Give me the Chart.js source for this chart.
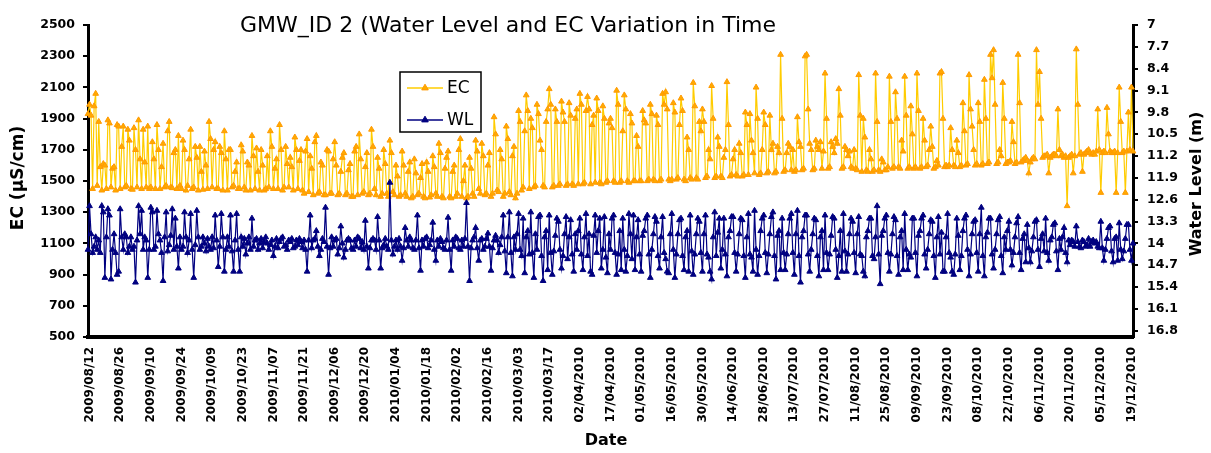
<!DOCTYPE html>
<html>
<head>
<meta charset="utf-8">
<script src="https://cdn.jsdelivr.net/npm/chart.js@4.4.3/dist/chart.umd.min.js"></script>
<style>
  html, body { margin: 0; padding: 0; background: #fff; }
  #wrap { width: 1211px; height: 453px; }
</style>
</head>
<body>
<div id="wrap"><canvas id="chart" width="1211" height="453"></canvas></div>
<script>
// date labels shown every 20th reading
const tickLabels = [
  '2009/08/12', '2009/08/26', '2009/09/10', '2009/09/24', '2009/10/09', '2009/10/23',
  '2009/11/07', '2009/11/21', '2009/12/06', '2009/12/20', '2010/01/04', '2010/01/18',
  '2010/02/02', '2010/02/16', '2010/03/03', '2010/03/17', '02/04/2010', '17/04/2010',
  '01/05/2010', '16/05/2010', '30/05/2010', '14/06/2010', '28/06/2010', '13/07/2010',
  '27/07/2010', '11/08/2010', '25/08/2010', '09/09/2010', '23/09/2010', '08/10/2010',
  '22/10/2010', '06/11/2010', '20/11/2010', '05/12/2010', '19/12/2010'
];
const labelEvery = 20;

// EC in uS/cm
const ecValues = [
  1930,
  1990, 1920, 1450, 1980, 2060, 1470, 1880, 1590, 1440, 1610, 1600, 1450, 1890, 1870, 1460, 1580, 1590, 1440, 1860, 1850,
  1450, 1720, 1850, 1460, 1470, 1830, 1760, 1450, 1445, 1840, 1700, 1460, 1890, 1640, 1450, 1830, 1620, 1460, 1850, 1450,
  1460, 1750, 1640, 1450, 1860, 1700, 1450, 1590, 1740, 1460, 1470, 1820, 1880, 1460, 1455, 1680, 1700, 1450, 1790, 1470,
  1450, 1760, 1700, 1440, 1470, 1640, 1830, 1450, 1460, 1720, 1650, 1440, 1720, 1560, 1445, 1690, 1600, 1450, 1880, 1770,
  1460, 1700, 1750, 1450, 1450, 1720, 1680, 1440, 1820, 1640, 1440, 1700, 1700, 1460, 1470, 1560, 1620, 1450, 1450, 1730,
  1690, 1460, 1440, 1620, 1600, 1440, 1790, 1660, 1450, 1710, 1560, 1440, 1700, 1600, 1440, 1450, 1660, 1460, 1820, 1720,
  1450, 1580, 1640, 1450, 1860, 1700, 1440, 1460, 1720, 1610, 1460, 1650, 1590, 1440, 1780, 1700, 1450, 1630, 1700, 1440,
  1420, 1690, 1770, 1430, 1660, 1580, 1410, 1750, 1790, 1420, 1430, 1620, 1600, 1410, 1410, 1700, 1690, 1420, 1420, 1640,
  1750, 1600, 1410, 1420, 1560, 1650, 1680, 1410, 1420, 1570, 1610, 1400, 1400, 1690, 1720, 1410, 1800, 1640, 1420, 1430,
  1590, 1680, 1410, 1420, 1830, 1720, 1450, 1410, 1650, 1580, 1400, 1420, 1700, 1610, 1420, 1400, 1760, 1680, 1430, 1410,
  1600, 1530, 1400, 1410, 1690, 1600, 1420, 1400, 1560, 1620, 1390, 1400, 1640, 1550, 1410, 1420, 1520, 1610, 1400, 1390,
  1620, 1560, 1395, 1410, 1660, 1590, 1420, 1400, 1740, 1680, 1400, 1390, 1580, 1650, 1690, 1400, 1390, 1560, 1600, 1400,
  1420, 1700, 1770, 1400, 1500, 1600, 1390, 1400, 1650, 1580, 1420, 1400, 1760, 1690, 1450, 1420, 1740, 1660, 1410, 1420,
  1600, 1680, 1400, 1420, 1910, 1800, 1440, 1430, 1700, 1640, 1400, 1420, 1850, 1770, 1430, 1410, 1660, 1720, 1390, 1420,
  1950, 1880, 1440, 1460, 1820, 2050, 1950, 1450, 1900, 1840, 1460, 1470, 1990, 1930, 1760, 1700, 1470, 1460, 1880, 1960,
  2090, 1990, 1460, 1470, 1960, 1880, 1470, 1480, 2010, 1940, 1880, 1470, 1480, 2000, 1920, 1480, 1470, 1900, 1960, 1480,
  2060, 1990, 1480, 1490, 1950, 2040, 1960, 1480, 1860, 1920, 1490, 2030, 1950, 1490, 1480, 1980, 1900, 1490, 1500, 1870,
  1900, 1840, 1500, 1490, 2080, 1990, 1490, 1500, 1820, 2050, 1960, 1500, 1490, 1930, 1870, 1500, 1500, 1790, 1720, 1500,
  1500, 1950, 1890, 1870, 1500, 1510, 1990, 1930, 1510, 1500, 1920, 1860, 1500, 1510, 2060, 1990, 2070, 1960, 1510, 1500,
  1510, 2000, 1940, 1510, 1520, 1860, 2030, 1950, 1510, 1500, 1780, 1700, 1520, 1510, 2130, 1980, 1520, 1510, 1880, 1820,
  1960, 1880, 1520, 1530, 1700, 1640, 2110, 1900, 1520, 1530, 1780, 1720, 1530, 1520, 1650, 1700, 2135, 1860, 1530, 1540,
  1640, 1700, 1540, 1530, 1740, 1680, 1530, 1540, 1940, 1860, 1540, 1930, 1760, 1680, 1550, 2100, 1900, 1540, 1550, 1700,
  1940, 1860, 1550, 1560, 1920, 1700, 1740, 1550, 1560, 1720, 1680, 2310, 1900, 1560, 1570, 1680, 1740, 1720, 1570, 1700,
  1560, 1570, 1910, 1750, 1720, 1570, 1580, 2300, 2310, 1960, 1740, 1700, 1570, 1580, 1760, 1720, 1700, 1750, 1580, 1690,
  2190, 1900, 1580, 1590, 1750, 1720, 1680, 1770, 1740, 2090, 1920, 1580, 1590, 1720, 1700, 1660, 1690, 1590, 1580, 1700,
  1580, 1570, 2180, 1920, 1560, 1900, 1780, 1570, 1560, 1700, 1640, 1560, 1570, 2190, 1880, 1570, 1560, 1640, 1620, 1570,
  1570, 1590, 2170, 1880, 1580, 1590, 2070, 1900, 1590, 1580, 1760, 1690, 2170, 1920, 1580, 1590, 1980, 1800, 1580, 1590,
  2190, 1950, 1580, 1590, 1900, 1760, 1590, 1600, 1700, 1850, 1720, 1580, 1590, 1630, 1600, 2190, 2200, 1900, 1590, 1600,
  1590, 1600, 1840, 1700, 1600, 1590, 1760, 1680, 1590, 1600, 2000, 1820, 1600, 1610, 2180, 1960, 1850, 1700, 1600, 1610,
  2000, 1880, 1600, 1610, 2150, 1900, 1610, 1620, 2310, 2160, 2340, 1990, 1610, 1620, 1700, 1660, 2130, 1900, 1610, 1620,
  1620, 1630, 1880, 1750, 1610, 1620, 2310, 2000, 1620, 1630, 1640, 1650, 1630, 1550, 1620, 1640, 1650, 1640, 2340, 1990,
  2200, 1900, 1650, 1660, 1660, 1670, 1550, 1650, 1660, 1670, 1670, 1660, 1960, 1700, 1660, 1670, 1650, 1660, 1340, 1650,
  1660, 1670, 1550, 1660, 2345, 1990, 1670, 1680, 1560, 1670, 1680, 1690, 1700, 1680, 1670, 1680, 1670, 1690, 1960, 1700,
  1425, 1680, 1690, 1680, 1970, 1800, 1690, 1680, 1680, 1690, 1425, 1680, 2100, 1880, 1680, 1690, 1425, 1690, 1940, 1700,
  2100, 1690
];

// water level in m (right axis, depth below ground)
const wlValues = [
  14.2,
  12.8, 13.7, 14.3, 14.1, 13.8, 14.2, 13.9, 14.3, 12.8, 13.0, 15.1, 13.8, 12.9, 13.1, 15.15, 14.2, 13.7, 14.3, 15.0, 14.9,
  12.9, 13.8, 14.2, 13.7, 13.8, 14.3, 14.1, 13.8, 14.2, 14.1, 15.25, 13.9, 12.8, 13.7, 12.95, 14.2, 13.8, 13.9, 15.1, 14.2,
  12.85, 13.0, 14.2, 14.1, 12.95, 13.7, 13.9, 14.3, 15.2, 13.8, 13.0, 14.25, 14.05, 13.75, 12.9, 14.2, 13.2, 14.1, 14.8, 13.8,
  14.2, 14.1, 13.0, 13.8, 14.3, 13.9, 13.05, 14.2, 15.1, 14.05, 12.95, 13.8, 14.2, 14.1, 13.8, 14.0, 14.25, 13.85, 14.1, 14.2,
  13.8, 14.15, 13.1, 13.9, 14.75, 14.1, 13.05, 13.8, 14.9, 14.2, 13.8, 14.1, 13.1, 14.25, 14.9, 13.9, 13.05, 14.2, 14.9, 13.8,
  14.1, 13.85, 14.35, 14.0, 13.8, 14.2, 13.2, 14.1, 13.9, 13.85, 14.2, 14.0, 13.85, 14.15, 13.95, 13.8, 14.0, 14.2, 14.05, 13.9,
  14.4, 14.1, 13.85, 14.15, 13.95, 13.85, 13.8, 14.1, 14.05, 14.2, 13.9, 13.95, 13.85, 14.15, 14.1, 13.9, 14.05, 13.85, 13.95, 14.15,
  13.9, 14.2, 14.9, 13.9, 13.1, 14.15, 13.9, 13.85, 13.6, 14.1, 14.4, 14.2, 13.85, 13.95, 12.85, 14.1, 15.0, 14.15, 13.8, 14.1,
  13.9, 13.85, 14.35, 14.15, 13.45, 14.0, 14.45, 14.2, 13.9, 13.85, 13.9, 14.15, 14.2, 13.9, 14.1, 13.8, 13.85, 14.15, 13.95, 14.2,
  13.27, 14.1, 14.8, 14.15, 13.9, 13.85, 13.9, 14.2, 13.15, 13.9, 14.8, 14.15, 14.05, 13.85, 14.1, 14.2, 12.05, 13.9, 14.35, 14.1,
  13.9, 14.2, 13.85, 14.1, 14.55, 14.15, 13.5, 13.9, 14.1, 13.8, 13.9, 14.15, 14.2, 13.9, 13.1, 14.15, 14.87, 13.9, 14.1, 13.85,
  13.8, 14.15, 14.05, 13.9, 13.33, 14.2, 14.55, 13.9, 14.1, 13.85, 13.95, 14.15, 14.2, 13.9, 13.17, 14.2, 14.87, 13.9, 14.1, 13.8,
  13.85, 14.15, 14.2, 13.9, 14.1, 13.85, 12.7, 14.1, 15.2, 14.15, 13.9, 13.8, 13.5, 14.15, 14.55, 13.9, 13.85, 14.2, 14.1, 13.85,
  13.68, 14.1, 14.87, 14.15, 13.9, 13.75, 13.9, 14.3, 14.05, 13.8, 13.1, 14.25, 14.95, 13.8, 13.0, 14.3, 15.05, 13.8, 14.2, 13.7,
  13.05, 14.2, 14.4, 13.2, 14.95, 13.8, 13.6, 14.35, 13.0, 14.3, 15.1, 13.7, 14.2, 13.15, 13.1, 14.4, 15.2, 13.8, 13.6, 14.85,
  13.1, 14.3, 15.0, 14.25, 13.75, 13.2, 13.3, 14.2, 14.8, 14.4, 13.7, 13.15, 14.5, 13.8, 13.25, 14.35, 14.9, 13.7, 14.2, 13.6,
  13.2, 14.35, 14.85, 13.8, 13.05, 14.4, 13.7, 14.9, 15.0, 13.75, 13.1, 14.3, 13.6, 13.2, 14.8, 14.2, 13.15, 14.45, 14.95, 13.7,
  14.2, 13.2, 13.1, 14.3, 15.0, 14.35, 13.6, 14.85, 13.2, 14.2, 14.9, 14.4, 13.05, 13.7, 14.5, 13.1, 14.85, 13.8, 13.25, 14.35,
  14.9, 13.75, 13.6, 13.2, 13.1, 14.35, 15.1, 14.2, 13.7, 13.15, 13.3, 14.4, 14.8, 13.8, 13.15, 14.3, 14.5, 14.9, 14.95, 13.7,
  13.05, 14.2, 15.1, 14.35, 13.7, 13.25, 13.2, 14.4, 14.85, 13.8, 13.6, 14.9, 13.1, 14.25, 15.0, 14.35, 13.7, 13.2, 13.3, 14.3,
  14.9, 13.7, 13.1, 14.35, 14.45, 14.9, 15.15, 13.8, 13.0, 14.4, 13.65, 13.2, 14.8, 14.2, 13.2, 14.35, 15.05, 13.8, 13.6, 13.15,
  13.15, 14.3, 14.9, 14.35, 13.7, 13.2, 13.25, 14.4, 15.1, 13.8, 13.05, 14.35, 14.45, 14.9, 12.95, 14.2, 15.0, 14.4, 13.6, 13.2,
  13.1, 14.3, 14.95, 14.35, 13.7, 13.15, 13.0, 14.4, 15.15, 13.75, 13.6, 14.85, 13.2, 14.3, 14.85, 14.35, 13.7, 13.2, 13.05, 14.3,
  15.0, 13.7, 12.95, 14.4, 15.25, 13.8, 13.6, 13.1, 13.1, 14.35, 14.9, 14.2, 13.7, 13.2, 13.25, 14.4, 15.05, 13.8, 13.6, 14.85,
  13.1, 14.3, 14.85, 14.35, 13.75, 13.15, 13.2, 14.2, 15.1, 14.4, 13.6, 14.9, 13.05, 14.25, 14.9, 14.35, 13.7, 13.2, 13.3, 14.3,
  14.95, 13.7, 13.15, 14.35, 14.4, 14.9, 15.05, 13.8, 13.6, 13.2, 13.2, 14.4, 14.5, 13.8, 12.8, 14.35, 15.3, 13.75, 13.6, 13.2,
  13.1, 14.3, 14.9, 14.35, 13.7, 13.15, 13.25, 14.4, 15.0, 13.8, 13.6, 14.85, 13.05, 14.2, 14.85, 14.35, 14.45, 13.2, 13.2, 14.3,
  15.05, 13.75, 13.6, 13.2, 13.1, 14.35, 14.8, 14.2, 13.7, 13.25, 13.3, 14.4, 15.1, 13.8, 13.15, 14.35, 13.65, 14.9, 14.9, 13.8,
  13.05, 14.3, 14.45, 14.9, 15.0, 14.35, 13.2, 13.75, 14.85, 14.4, 13.6, 13.2, 13.1, 14.2, 15.05, 14.35, 13.7, 13.3, 13.25, 14.3,
  14.9, 13.7, 12.85, 14.4, 15.05, 13.8, 13.65, 13.2, 13.2, 14.35, 14.8, 14.2, 13.7, 13.25, 13.15, 14.4, 14.95, 13.8, 14.2, 13.6,
  13.3, 14.2, 14.7, 14.3, 13.8, 13.35, 13.15, 14.3, 14.85, 13.85, 13.7, 14.6, 13.4, 14.15, 14.6, 14.25, 13.8, 13.3, 13.25, 14.2,
  14.75, 13.85, 13.7, 14.25, 13.2, 14.3, 14.55, 13.9, 13.8, 13.4, 13.35, 14.25, 14.85, 13.85, 14.2, 13.8, 13.5, 14.3, 14.6, 13.9,
  14.05, 13.9, 13.95, 14.1, 13.45, 13.95, 14.1, 14.15, 13.9, 13.95, 14.1, 14.05, 13.85, 14.1, 13.95, 13.9, 14.0, 13.95, 14.1, 14.15,
  13.3, 14.15, 14.55, 14.2, 13.85, 13.5, 13.45, 14.25, 14.6, 13.85, 13.8, 14.55, 13.35, 14.2, 14.5, 14.25, 13.85, 13.4, 13.4, 14.2,
  14.55, 14.0
];

const wlTicks = [7, 7.7, 8.4, 9.1, 9.8, 10.5, 11.2, 11.9, 12.6, 13.3, 14, 14.7, 15.4, 16.1, 16.8];

const categories = ecValues.map((_, i) => ((i - 1) % labelEvery === 0 ? tickLabels[(i - 1) / labelEvery] : ''));

const tickFont = { family: 'DejaVu Sans', weight: 'bold', size: 12.5 };

// title, axis titles and the boxed legend
const decorations = {
  id: 'decorations',
  afterDraw(chart) {
    const ctx = chart.ctx;
    ctx.save();
    ctx.fillStyle = '#000';
    ctx.textBaseline = 'middle';

    ctx.font = '22px "DejaVu Sans"';
    ctx.textAlign = 'left';
    ctx.fillText('GMW_ID 2 (Water Level and EC Variation in Time', 240, 26);

    ctx.font = 'bold 16px "DejaVu Sans"';
    ctx.textAlign = 'center';
    ctx.fillText('Date', 606, 441);

    ctx.save();
    ctx.translate(19, 178);
    ctx.rotate(-Math.PI / 2);
    ctx.font = 'bold 17px "DejaVu Sans"';
    ctx.fillText('EC (µS/cm)', 0, 0);
    ctx.restore();

    ctx.save();
    ctx.translate(1197, 184);
    ctx.rotate(-Math.PI / 2);
    ctx.font = 'bold 16px "DejaVu Sans"';
    ctx.fillText('Water Level (m)', 0, 0);
    ctx.restore();

    // legend
    ctx.fillStyle = '#fff';
    ctx.fillRect(400, 72, 81, 60);
    ctx.strokeStyle = '#000';
    ctx.lineWidth = 1.5;
    ctx.strokeRect(400, 72, 81, 60);
    const rows = [88, 120];
    chart.data.datasets.forEach((ds, i) => {
      const y = rows[i];
      ctx.strokeStyle = ds.borderColor;
      ctx.lineWidth = 1.5;
      ctx.beginPath();
      ctx.moveTo(407, y);
      ctx.lineTo(443, y);
      ctx.stroke();
      ctx.fillStyle = ds.pointBackgroundColor;
      ctx.strokeStyle = ds.pointBorderColor;
      ctx.lineWidth = 1;
      Chart.helpers.drawPoint(ctx, { pointStyle: 'triangle', rotation: 0, radius: 3.8, borderWidth: 1 }, 425, y);
      ctx.fillStyle = '#000';
      ctx.font = '17px "DejaVu Sans"';
      ctx.textAlign = 'left';
      ctx.fillText(ds.label, 447, y + 1);
    });
    ctx.restore();
  }
};

new Chart(document.getElementById('chart'), {
  type: 'line',
  data: {
    labels: categories,
    datasets: [
      {
        label: 'EC',
        data: ecValues,
        yAxisID: 'y',
        order: 1,
        borderColor: '#FFCC00',
        borderWidth: 1.2,
        pointStyle: 'triangle',
        pointRadius: 3.3,
        pointBorderWidth: 1,
        pointBackgroundColor: '#FFAA00',
        pointBorderColor: '#FF9900',
        tension: 0,
      },
      {
        label: 'WL',
        data: wlValues,
        yAxisID: 'y2',
        order: 0,
        borderColor: '#000080',
        borderWidth: 1.2,
        pointStyle: 'triangle',
        pointRadius: 3.3,
        pointBorderWidth: 1,
        pointBackgroundColor: '#000080',
        pointBorderColor: '#000080',
        tension: 0,
      },
    ],
  },
  options: {
    responsive: false,
    animation: false,
    layout: { padding: { top: 25 } },
    plugins: {
      legend: { display: false },
      tooltip: { enabled: false },
      title: { display: false },
    },
    scales: {
      x: {
        type: 'category',
        grid: { display: false, drawTicks: false },
        border: { display: true, color: '#000', width: 4 },
        ticks: {
          autoSkip: false,
          minRotation: 90,
          maxRotation: 90,
          padding: 10,
          color: '#000',
          font: { family: 'DejaVu Sans', weight: 'bold', size: 12 },
          callback: (v, i) => categories[i] || null,
        },
        afterFit: (s) => { s.height = 116; },
      },
      y: {
        position: 'left',
        min: 500,
        max: 2500,
        ticks: { stepSize: 200, padding: 8, color: '#000', font: tickFont, callback: (v) => String(v) },
        grid: { drawOnChartArea: false, drawTicks: true, tickLength: 5, color: '#000', lineWidth: 2 },
        border: { color: '#000', width: 3 },
        afterFit: (s) => { s.width = 88; },
      },
      y2: {
        position: 'right',
        reverse: true,
        min: 7,
        max: 17,
        afterBuildTicks: (s) => { s.ticks = wlTicks.map((v) => ({ value: v })); },
        ticks: { padding: 9, color: '#000', font: tickFont, callback: (v) => String(v) },
        grid: { drawOnChartArea: false, drawTicks: true, tickLength: 5, color: '#000', lineWidth: 2 },
        border: { color: '#000', width: 3 },
        afterFit: (s) => { s.width = 78; },
      },
    },
  },
  plugins: [decorations],
});
</script>
</body>
</html>
